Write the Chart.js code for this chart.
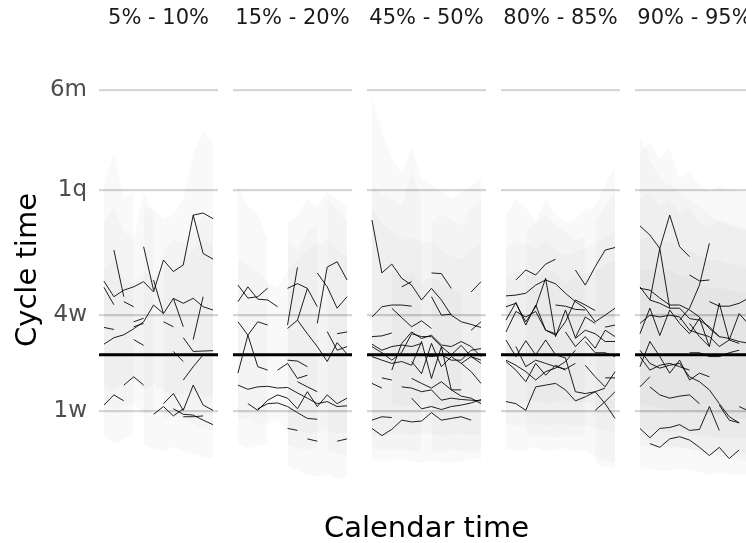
<!DOCTYPE html>
<html>
<head>
<meta charset="utf-8">
<script src="https://cdn.jsdelivr.net/npm/chart.js@4/dist/chart.umd.min.js"></script>
<style>
  body { margin: 0; width: 746px; height: 543px; overflow: hidden; background: #fff; position: relative; }
  .panel { position: absolute; left: 0; top: 0; }
  #x-title { position: absolute; left: 226.5px; width: 400px; top: 510px; text-align: center;
             font: 29px 'DejaVu Sans', sans-serif; line-height: 34px; color: #000; white-space: nowrap; }
</style>
</head>
<body>
<div id="figure"></div>
<div id="x-title">Calendar time</div>
<script>
// calendar time steps shared by every panel
const timeSteps = [0, 1, 2, 3, 4, 5, 6, 7, 8, 9, 10, 11];
// place a run of values at a start step, the rest stay empty
const at = (start, vals) => timeSteps.map(i => (i >= start && i < start + vals.length) ? vals[i - start] : null);

const panelTitles = ['5% - 10%', '15% - 20%', '45% - 50%', '80% - 85%', '90% - 95%'];
const tickDays = [7, 28, 91.3, 182.6];
const tickNames = ['1w', '4w', '1q', '6m'];
const referenceDays = 17;

// cycle time in days, one array per work item
const seriesP1 = [
  at(0, [38, 31.5]),
  at(0, [40.5, 34.4, 36.9, 38.2, 40.3, 36.2, 49.9, 44.6, 47.6, 74.5, 75.8, 72.3]),
  at(1, [54.8, 34.4]),
  at(4, [56.5, 36.9]),
  at(5, [41, 28.5]),
  at(9, [74.5, 53.1, 50.3]),
  at(2, [32.6, 30.8]),
  at(0, [19.6, 21.3, 22.1, 23.8, 25.9, 31.4, 28.5, 33.8, 32, 33.8, 30.8, 29.7]),
  at(6, [25.9, 24.4]),
  at(7, [33.8, 24.4]),
  at(0, [24.2, 23.6]),
  at(3, [25.9, 27]),
  at(3, [24.4, 25.4]),
  at(3, [20.8, 19.3]),
  at(8, [21.3, 17.8, 17.9, 18.0]),
  at(9, [20.8, 34.4]),
  at(7, [17.8, 15.5]),
  at(8, [11.8, 14.4, 17.0]),
  at(2, [10.9, 12.4, 10.9]),
  at(0, [7.8, 9.3, 8.4]),
  at(5, [6.6, 7.6, 6.4, 7.3]),
  at(6, [8.0, 9.5, 7.1, 10.9, 7.8, 7.1]),
  at(7, [7.3, 6.6, 6.5, 5.9, 5.4]),
  at(8, [6.3, 6.3, 6.4])
];
const seriesP2 = [
  at(0, [38.9, 33.9, 34.4, 37.7]),
  at(0, [32.6, 38.2, 33.5, 33.2, 30.8]),
  at(5, [37.6, 39.5, 37.6, 30.8]),
  at(5, [24.9, 46.5]),
  at(5, [23.9, 26.4, 37.6]),
  at(6, [26.4, 22.4, 19.0, 15.5, 20.0, 17.2]),
  at(8, [25.4, 46.6, 49.1, 41]),
  at(8, [44, 38.2, 30.3, 34.4]),
  at(9, [23, 18.1, 19]),
  at(10, [22.4, 22.9]),
  at(0, [25.9, 22.0, 25.9, 24.9]),
  at(1, [22.0, 14.4, 13.7]),
  at(0, [13.1, 22.0]),
  at(0, [10.9, 10.2, 10.6, 10.7, 10.4, 10.5, 9.6, 8.8, 8.0, 8.3, 7.6, 7.7]),
  at(1, [8.0, 7.1, 8.5, 9.3, 8.8, 7.3, 9.8, 7.6, 9.3, 8.0, 8.8]),
  at(2, [7.3, 8.0, 8.1, 7.6, 6.8, 6.1, 6.0]),
  at(4, [13.7, 15.1, 12.1, 12.7]),
  at(5, [15.8, 15.6, 14.4]),
  at(6, [11.5, 10.6, 9.8]),
  at(5, [5.0, 4.8]),
  at(7, [4.0, 3.8]),
  at(10, [3.8, 4.0])
];
const seriesP3 = [
  at(0, [71.5, 44.0, 48.0, 41.7, 38.9, 33.2, 37.6, 33.2, 28.0, 25.9, 25.1, 24.2]),
  at(3, [38.2, 40.3]),
  at(6, [44.0, 43.7, 37.6]),
  at(6, [34.4, 28.0, 28.3]),
  at(10, [36.2, 40.3]),
  at(0, [27.4, 30.8, 31.4, 31.4, 31.0]),
  at(2, [30.3, 27.2, 24.4, 26.2, 23.9]),
  at(10, [23.4, 25.9]),
  at(0, [21.6, 21.8, 22.6]),
  at(0, [19.6, 18.1, 19.0, 19.4, 19.0, 19.8]),
  at(0, [19.0, 17.5, 15.8, 17.6, 22.4, 21.6, 21.6, 19.0, 17.0, 19.3, 16.6, 15.8]),
  at(2, [13.7, 19.8, 22.9, 21.1, 22.0, 19.4, 19.0, 20.3, 19.0, 16.6]),
  at(0, [16.6, 15.8, 15.1, 15.5, 14.7, 20.3, 12.1, 19.0, 10.1, 9.1, 8.8, 8.0]),
  at(4, [15.5, 13.0, 19.8, 14.4, 16.6, 15.1, 16.6, 15.1]),
  at(5, [17.0, 16.6, 17.0, 15.8, 15.8, 18.1, 18.5]),
  at(0, [11.2, 10.4]),
  at(1, [12.2, 11.8]),
  at(3, [10.6, 10.4, 9.8, 10.1, 8.5, 8.8, 8.6, 8.5, 8.4]),
  at(4, [8.8, 7.3, 7.6, 7.2, 7.6, 7.8, 8.1, 8.6]),
  at(4, [12.1, 11.2, 10.4, 11.5, 10.1, 10.1]),
  at(9, [15.1, 13.4, 11.2]),
  at(0, [5.9, 6.3, 6.2]),
  at(0, [5.0, 4.3, 4.9, 5.9, 5.7, 5.8, 6.8, 5.9, 6.1, 6.3, 5.9])
];
const seriesP4 = [
  at(1, [41.0, 45.3, 43.1, 48.0, 50.3]),
  at(7, [45.3, 38.9, 46.8, 54.8, 56.1]),
  at(0, [34.7, 35.0, 35.7, 38.9, 41.0, 39.4, 35.7, 32.6, 30.3, 25.9, 28.0, 30.3]),
  at(0, [30.8, 32.0, 25.9, 30.8, 41.7, 21.6, 29.7, 21.3, 27.4, 25.4]),
  at(0, [26.4, 32.3, 24.9, 31.4, 23.4, 22.0, 25.9, 33.2, 31.4, 29.5]),
  at(0, [22.9, 29.2, 27.4, 29.2, 23.4, 22.4]),
  at(5, [31.4, 31.0, 29.9, 29.7]),
  at(0, [20.7, 16.6, 20.5, 17.0, 20.7, 17.0, 16.3]),
  at(0, [15.8, 14.7, 13.4, 11.8, 13.4, 14.1, 15.5, 18.1]),
  at(0, [15.5, 13.7, 11.5, 15.1, 12.7, 14.7, 13.7]),
  at(1, [19.0, 14.4, 15.8, 15.1, 14.4, 13.9, 15.1]),
  at(6, [22.9, 19.0, 21.6, 18.6, 23.4, 21.6]),
  at(7, [21.1, 23.4, 22.4, 20.3, 20.3]),
  at(8, [20.3, 17.5, 17.5, 16.6]),
  at(6, [16.3, 9.8, 9.5, 9.8, 8.0, 6.1]),
  at(8, [14.7, 12.4, 10.6, 13.4]),
  at(0, [8.3, 8.0, 7.1, 10.6, 10.9, 11.2, 10.1, 8.4, 9.0, 9.8, 10.4]),
  at(9, [7.1, 8.3, 9.8]),
  at(10, [12.2, 12.2]),
  at(10, [24.3, 24.9])
];
const seriesP5 = [
  at(0, [68.0, 62.8, 55.6, 74.5, 56.5, 51.5]),
  at(1, [33.2, 55.6, 30.3]),
  at(5, [43.1, 40.6, 41.0]),
  at(4, [26.4, 30.3, 38.9, 58.3]),
  at(0, [38.2, 33.2, 32.0, 30.3, 30.3, 26.9, 26.4, 24.4, 21.6, 21.1, 20.3, 19.8]),
  at(0, [37.6, 36.9, 33.9, 31.4, 31.4, 29.7, 27.4, 23.9, 21.6]),
  at(0, [22.4, 30.3, 21.9, 29.7, 25.4, 22.4, 27.0, 19.0, 32.0, 20.7, 28.5, 25.0]),
  at(7, [32.6, 31.0, 31.0, 32.0, 34.0]),
  at(0, [25.4, 28.0, 27.4, 28.0, 27.4, 23.4, 22.4, 21.6, 19.0, 20.7, 19.8]),
  at(0, [14.4, 20.3, 16.6, 13.1, 15.8, 11.8, 13.1, 12.4]),
  at(0, [18.1, 15.1, 14.1, 14.7, 15.1, 12.4, 11.5, 10.1, 8.0, 6.3, 5.6]),
  at(0, [16.6, 13.7, 14.7, 15.1, 14.4, 13.7]),
  at(0, [10.6, 12.4]),
  at(1, [10.6, 9.3, 8.8, 9.1, 9.3, 8.0]),
  at(0, [5.0, 4.1, 5.0, 5.1, 5.4, 4.8, 4.9, 7.6, 4.8]),
  at(1, [3.6, 3.3, 4.0, 4.2, 3.9, 3.3, 2.7, 3.3, 2.5, 3.1]),
  at(8, [7.8, 5.9, 5.6]),
  at(10, [7.6, 7.0]),
  at(5, [17.5, 17.5, 16.6, 16.6, 17.5, 18.1]),
  at(5, [25.4, 21.6, 19.0])
];

// uncertainty ribbons, upper and lower bounds in days
const ribbonHiP1 = [at(0, [95, 120, 85, 90]), at(0, [70, 80, 65, 60, 90, 75]), at(4, [80, 78, 72, 75, 85, 120, 140, 130]), at(6, [55, 60, 58, 65, 75, 70]), at(0, [45, 50, 42, 40, 45, 42, 48, 46, 50, 55, 60, 58])];
const ribbonLoP1 = [at(0, [4.2, 3.6, 4.0, 4.4]), at(0, [8, 7, 7.5, 8, 6.5, 7]), at(4, [3.5, 3.2, 3.0, 3.3, 3.0, 2.8, 2.6, 2.5]), at(6, [6, 6.5, 6, 5.5, 5, 4.8]), at(0, [11, 10, 11, 12, 10, 11, 10, 9, 9.5, 10, 9, 9])];
const ribbonHiP2 = [at(0, [95, 80, 75, 60]), at(5, [70, 75, 85, 80, 90, 85, 80]), at(0, [50, 48, 45, 40, 38, 45, 50, 55, 58, 60, 55, 52]), at(5, [60, 55, 65, 70]), at(9, [85, 78, 70])];
const ribbonLoP2 = [at(0, [3.5, 3.2, 3.4, 3.6]), at(5, [2.0, 1.8, 1.6, 1.5, 1.6, 1.4, 1.5]), at(0, [6, 6, 5.5, 5.5, 6, 5, 4.8, 4.5, 4.6, 4.8, 4.5, 4.6]), at(5, [3.5, 3.2, 3.0, 3.3]), at(9, [3, 2.8, 2.7])];
const ribbonHiP3 = [at(0, [175, 140, 115, 105, 125, 100, 95, 90, 85, 90, 95, 100]), at(0, [80, 70, 65, 60, 62, 58, 60, 55, 52, 50, 55, 58]), at(2, [45, 42, 44, 40, 42, 40, 38, 36]), at(0, [95, 88, 85, 80, 105, 85]), at(6, [70, 75, 72, 68, 80, 85])];
const ribbonLoP3 = [at(0, [2.5, 2.3, 2.4, 2.5, 2.3, 2.2, 2.4, 2.3, 2.2, 2.3, 2.5, 2.4]), at(0, [4.5, 4.2, 4.4, 4.6, 4.3, 4.4, 4.5, 4.2, 4.4, 4.5, 4.3, 4.4]), at(2, [8, 7.5, 7.8, 7.6, 7.4, 7.8, 7.5, 7.6]), at(0, [3.2, 3, 3.1, 3.2, 3, 3.1]), at(6, [3, 2.9, 3.1, 3, 2.9, 3])];
const ribbonHiP4 = [at(0, [75, 85, 80, 70, 85, 75, 70, 72, 78, 80, 95, 110]), at(0, [55, 60, 58, 55, 60, 55, 52, 54, 56, 58, 62, 65]), at(0, [42, 45, 44, 42, 46, 44, 40, 42, 44, 45, 48, 50]), at(2, [65, 70, 75, 68, 65, 60, 62]), at(9, [70, 80, 90])];
const ribbonLoP4 = [at(0, [3.2, 3, 3.1, 3.3, 3, 3.1, 3.2, 3.0, 3.1, 2.6, 2.4, 2.3]), at(0, [5.5, 5.2, 5.4, 5.6, 5.3, 5.4, 5.5, 5.2, 5.4, 5.0, 4.8, 4.6]), at(0, [8.5, 8, 8.2, 8.4, 8, 8.2, 8.4, 8.1, 8.2, 7.8, 7.5, 7.2]), at(2, [4.5, 4.2, 4.4, 4.1, 4.3, 4.2, 4.4]), at(9, [2.2, 2.0, 1.9])];
const ribbonHiP5 = [at(0, [120, 130, 115, 125, 100, 105, 95, 90, 95, 92, 90, 90]), at(0, [85, 90, 80, 85, 75, 80, 70, 68, 72, 70, 68, 66]), at(0, [60, 62, 58, 60, 56, 55, 52, 50, 50, 48, 48, 46]), at(0, [45, 46, 44, 45, 43, 42, 40, 38, 38, 37, 36, 36]), at(0, [135, 115, 100, 95, 90, 85, 80, 75, 70, 68, 66, 65])];
const ribbonLoP5 = [at(0, [2, 1.9, 1.8, 1.8, 1.9, 1.8, 1.7, 1.6, 1.7, 1.6, 1.6, 1.6]), at(0, [3.5, 3.3, 3.2, 3.2, 3.3, 3.1, 3.0, 2.9, 2.9, 2.8, 2.8, 2.8]), at(0, [5, 4.8, 4.7, 4.6, 4.7, 4.5, 4.3, 4.2, 4.1, 4.0, 4.0, 4.0]), at(0, [8, 7.6, 7.4, 7.2, 7.2, 7.0, 6.8, 6.5, 6.4, 6.2, 6.0, 6.0]), at(0, [4, 3.8, 3.6, 3.4, 3.3, 3.2, 3.0, 2.8, 2.6, 2.5, 2.4, 2.3])];

const panelSeries = [seriesP1, seriesP2, seriesP3, seriesP4, seriesP5];
const panelRibbonHi = [ribbonHiP1, ribbonHiP2, ribbonHiP3, ribbonHiP4, ribbonHiP5];
const panelRibbonLo = [ribbonLoP1, ribbonLoP2, ribbonLoP3, ribbonLoP4, ribbonLoP5];

// layout
const figureWidth = 760, figureHeight = 543;
const firstPanelLeft = 99, panelStep = 134, panelWidth = 119;
const yMinDays = 1.15, yMaxDays = 225;

// cube root axis for cycle time
class CubeRootScale extends Chart.Scale {
  static id = 'cuberoot';
  static defaults = {};
  parse(raw, index) {
    const v = Chart.LinearScale.prototype.parse.apply(this, [raw, index]);
    return isFinite(v) && v > 0 ? v : null;
  }
  determineDataLimits() {
    const { min, max } = this.getMinMax(true);
    this.min = min;
    this.max = max;
  }
  buildTicks() {
    return tickDays.map(v => ({ value: v }));
  }
  getLabelForValue(v) {
    return String(v);
  }
  configure() {
    super.configure();
    this._start = Math.cbrt(this.min);
    this._range = Math.cbrt(this.max) - this._start;
  }
  getPixelForValue(v) {
    if (v === undefined || v === null || isNaN(v)) return NaN;
    return this.getPixelForDecimal((Math.cbrt(v) - this._start) / this._range);
  }
  getValueForPixel(p) {
    const d = this.getDecimalForPixel(p);
    return Math.pow(this._start + d * this._range, 3);
  }
}
Chart.register(CubeRootScale);
Chart.defaults.font.family = "'DejaVu Sans', sans-serif";

const buildDatasets = (k) => {
  const ds = [{
    data: [{ x: -0.5, y: referenceDays }, { x: 11.5, y: referenceDays }],
    borderColor: '#000',
    borderWidth: 3
  }];
  panelSeries[k].forEach(s => ds.push({ data: s, borderColor: 'rgba(0,0,0,0.88)', borderWidth: 1 }));
  panelRibbonHi[k].forEach((hi, r) => {
    const loIndex = ds.length;
    ds.push({ data: panelRibbonLo[k][r], borderWidth: 0, fill: false });
    ds.push({ data: hi, borderWidth: 0, fill: loIndex, backgroundColor: 'rgba(0,0,0,0.022)' });
  });
  return ds;
};

const figure = document.getElementById('figure');
panelTitles.forEach((title, k) => {
  const left = firstPanelLeft + k * panelStep;
  const right = left + panelWidth;
  const holder = document.createElement('div');
  holder.className = 'panel';
  const canvas = document.createElement('canvas');
  canvas.width = figureWidth;
  canvas.height = figureHeight;
  holder.appendChild(canvas);
  figure.appendChild(holder);

  new Chart(canvas, {
    type: 'line',
    data: { labels: timeSteps, datasets: buildDatasets(k) },
    options: {
      responsive: false,
      devicePixelRatio: 1,
      animation: false,
      layout: { padding: { left: k === 0 ? 0 : left, right: figureWidth - right, top: 0, bottom: 0 } },
      elements: { point: { radius: 0 }, line: { tension: 0 } },
      plugins: {
        legend: { display: false },
        tooltip: { enabled: false },
        title: {
          display: true,
          text: title,
          fullSize: false,
          color: '#1a1a1a',
          font: { size: 21, weight: 'normal' },
          padding: { top: 6, bottom: 23.8 }
        }
      },
      scales: {
        x: {
          type: 'linear',
          min: -0.5,
          max: 11.5,
          afterFit: s => { s.height = 58; },
          grid: { display: false },
          border: { display: false },
          ticks: { display: false }
        },
        y: {
          type: 'cuberoot',
          min: yMinDays,
          max: yMaxDays,
          afterFit: s => { s.width = k === 0 ? firstPanelLeft : 0; },
          border: { display: false },
          grid: { color: '#d6d6d6', lineWidth: 2.2, drawTicks: false },
          ticks: {
            display: k === 0,
            padding: 12,
            color: '#4d4d4d',
            font: { size: 23 },
            callback: v => tickNames[tickDays.indexOf(v)]
          },
          title: {
            display: k === 0,
            text: 'Cycle time',
            color: '#000',
            font: { size: 29 },
            padding: { top: 11, bottom: 0 }
          }
        }
      }
    }
  });
});
</script>
</body>
</html>
